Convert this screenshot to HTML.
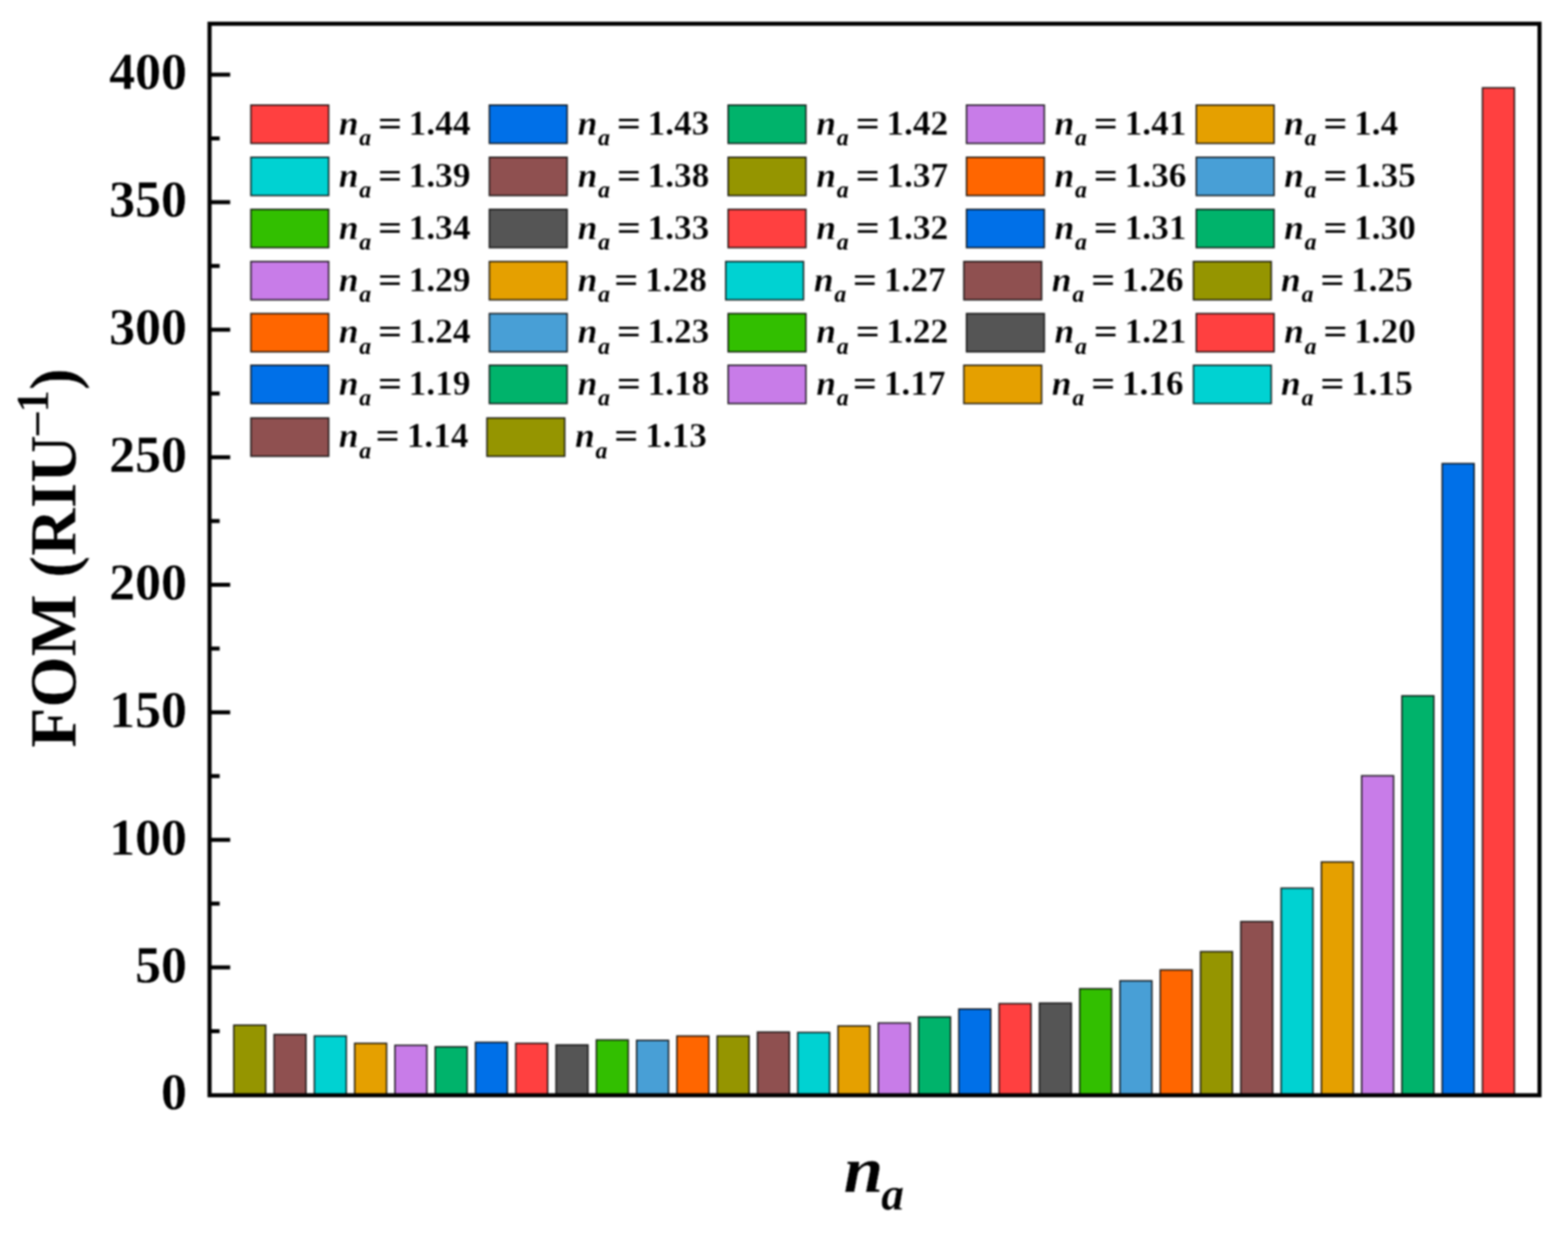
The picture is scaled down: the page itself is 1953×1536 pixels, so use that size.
<!DOCTYPE html>
<html lang="en"><head><meta charset="utf-8"><title>FOM (RIU-1) vs na bar chart</title>
<style>html,body{margin:0;padding:0;background:#fff}body{width:1953px;height:1536px;overflow:hidden}svg{display:block;filter:blur(0.8px)}text{font-family:"Liberation Serif", "DejaVu Serif", serif;font-weight:bold;fill:#000;stroke:#fff;stroke-width:0.3px;stroke-linejoin:round}.i{font-style:italic}.k{stroke:none}</style></head><body>
<svg width="1953" height="1536" viewBox="0 0 1953 1536">
<rect x="0" y="0" width="1953" height="1536" fill="#fff"/>
<g stroke="#000" stroke-opacity="0.85" stroke-width="1.8">
<rect x="291.20" y="1277.10" width="39.80" height="86.90" fill="#959500"/>
<rect x="341.37" y="1288.70" width="39.80" height="75.30" fill="#8F5050"/>
<rect x="391.54" y="1290.60" width="39.80" height="73.40" fill="#00D2D2"/>
<rect x="441.71" y="1299.70" width="39.80" height="64.30" fill="#E5A000"/>
<rect x="491.88" y="1302.20" width="39.80" height="61.80" fill="#C87CE8"/>
<rect x="542.05" y="1304.10" width="39.80" height="59.90" fill="#00B36B"/>
<rect x="592.22" y="1298.50" width="39.80" height="65.50" fill="#0070E8"/>
<rect x="642.39" y="1299.70" width="39.80" height="64.30" fill="#FF4040"/>
<rect x="692.56" y="1301.70" width="39.80" height="62.30" fill="#555555"/>
<rect x="742.73" y="1295.50" width="39.80" height="68.50" fill="#32BF00"/>
<rect x="792.90" y="1296.00" width="39.80" height="68.00" fill="#489FD6"/>
<rect x="843.07" y="1290.60" width="39.80" height="73.40" fill="#FF6600"/>
<rect x="893.24" y="1290.60" width="39.80" height="73.40" fill="#959500"/>
<rect x="943.41" y="1285.70" width="39.80" height="78.30" fill="#8F5050"/>
<rect x="993.58" y="1286.20" width="39.80" height="77.80" fill="#00D2D2"/>
<rect x="1043.75" y="1278.10" width="39.80" height="85.90" fill="#E5A000"/>
<rect x="1093.92" y="1274.40" width="39.80" height="89.60" fill="#C87CE8"/>
<rect x="1144.09" y="1266.80" width="39.80" height="97.20" fill="#00B36B"/>
<rect x="1194.26" y="1257.00" width="39.80" height="107.00" fill="#0070E8"/>
<rect x="1244.43" y="1250.30" width="39.80" height="113.70" fill="#FF4040"/>
<rect x="1294.60" y="1249.60" width="39.80" height="114.40" fill="#555555"/>
<rect x="1344.77" y="1231.70" width="39.80" height="132.30" fill="#32BF00"/>
<rect x="1394.94" y="1221.80" width="39.80" height="142.20" fill="#489FD6"/>
<rect x="1445.11" y="1208.30" width="39.80" height="155.70" fill="#FF6600"/>
<rect x="1495.28" y="1185.50" width="39.80" height="178.50" fill="#959500"/>
<rect x="1545.45" y="1148.10" width="39.80" height="215.90" fill="#8F5050"/>
<rect x="1595.62" y="1106.40" width="39.80" height="257.60" fill="#00D2D2"/>
<rect x="1645.79" y="1073.80" width="39.80" height="290.20" fill="#E5A000"/>
<rect x="1695.96" y="966.40" width="39.80" height="397.60" fill="#C87CE8"/>
<rect x="1746.13" y="866.80" width="39.80" height="497.20" fill="#00B36B"/>
<rect x="1796.30" y="577.50" width="39.80" height="786.50" fill="#0070E8"/>
<rect x="1846.47" y="109.40" width="39.80" height="1254.60" fill="#FF4040"/>
</g>
<g stroke="#000" stroke-width="5.0" fill="none">
<line x1="261.00" y1="1284.56" x2="273.60" y2="1284.56"/>
<line x1="261.00" y1="1205.12" x2="286.70" y2="1205.12"/>
<line x1="261.00" y1="1125.69" x2="273.60" y2="1125.69"/>
<line x1="261.00" y1="1046.25" x2="286.70" y2="1046.25"/>
<line x1="261.00" y1="966.81" x2="273.60" y2="966.81"/>
<line x1="261.00" y1="887.38" x2="286.70" y2="887.38"/>
<line x1="261.00" y1="807.94" x2="273.60" y2="807.94"/>
<line x1="261.00" y1="728.50" x2="286.70" y2="728.50"/>
<line x1="261.00" y1="649.06" x2="273.60" y2="649.06"/>
<line x1="261.00" y1="569.62" x2="286.70" y2="569.62"/>
<line x1="261.00" y1="490.19" x2="273.60" y2="490.19"/>
<line x1="261.00" y1="410.75" x2="286.70" y2="410.75"/>
<line x1="261.00" y1="331.31" x2="273.60" y2="331.31"/>
<line x1="261.00" y1="251.88" x2="286.70" y2="251.88"/>
<line x1="261.00" y1="172.44" x2="273.60" y2="172.44"/>
<line x1="261.00" y1="93.00" x2="286.70" y2="93.00"/>
</g>
<rect x="261.00" y="29.60" width="1656.50" height="1334.80" fill="none" stroke="#000" stroke-width="5.1"/>
<g font-size="64.6" text-anchor="end">
<text x="232.80" y="1382.40">0</text>
<text x="232.80" y="1223.53">50</text>
<text x="232.80" y="1064.65">100</text>
<text x="232.80" y="905.77">150</text>
<text x="232.80" y="746.90">200</text>
<text x="232.80" y="588.02">250</text>
<text x="232.80" y="429.15">300</text>
<text x="232.80" y="270.27">350</text>
<text x="232.80" y="111.40">400</text>
</g>
<text transform="translate(94,931.5) rotate(-90)" font-size="82">FOM (RIU<tspan font-size="56" dy="-34.3">–1</tspan><tspan dy="34.3">)</tspan></text>
<text class="i" y="1485" font-size="83"><tspan x="1050.7" textLength="49.39" lengthAdjust="spacingAndGlyphs">n</tspan><tspan font-size="60" x="1097.6" dy="22.0" textLength="28.50" lengthAdjust="spacingAndGlyphs">a</tspan></text>
<g stroke="#000" stroke-opacity="0.85" stroke-width="1.8">
<rect x="312.50" y="130.90" width="96.90" height="47.70" fill="#FF4040"/>
<rect x="609.50" y="130.90" width="96.90" height="47.70" fill="#0070E8"/>
<rect x="906.90" y="130.90" width="96.90" height="47.70" fill="#00B36B"/>
<rect x="1203.80" y="130.90" width="96.90" height="47.70" fill="#C87CE8"/>
<rect x="1490.00" y="130.90" width="96.90" height="47.70" fill="#E5A000"/>
<rect x="312.50" y="195.90" width="96.90" height="47.70" fill="#00D2D2"/>
<rect x="609.50" y="195.90" width="96.90" height="47.70" fill="#8F5050"/>
<rect x="906.90" y="195.90" width="96.90" height="47.70" fill="#959500"/>
<rect x="1203.80" y="195.90" width="96.90" height="47.70" fill="#FF6600"/>
<rect x="1490.00" y="195.90" width="96.90" height="47.70" fill="#489FD6"/>
<rect x="312.50" y="260.80" width="96.90" height="47.70" fill="#32BF00"/>
<rect x="609.50" y="260.80" width="96.90" height="47.70" fill="#555555"/>
<rect x="906.90" y="260.80" width="96.90" height="47.70" fill="#FF4040"/>
<rect x="1203.80" y="260.80" width="96.90" height="47.70" fill="#0070E8"/>
<rect x="1490.00" y="260.80" width="96.90" height="47.70" fill="#00B36B"/>
<rect x="312.50" y="325.80" width="96.90" height="47.70" fill="#C87CE8"/>
<rect x="609.50" y="325.80" width="96.90" height="47.70" fill="#E5A000"/>
<rect x="903.90" y="325.80" width="96.90" height="47.70" fill="#00D2D2"/>
<rect x="1200.50" y="325.80" width="96.90" height="47.70" fill="#8F5050"/>
<rect x="1486.50" y="325.80" width="96.90" height="47.70" fill="#959500"/>
<rect x="312.50" y="390.60" width="96.90" height="47.70" fill="#FF6600"/>
<rect x="609.50" y="390.60" width="96.90" height="47.70" fill="#489FD6"/>
<rect x="906.90" y="390.60" width="96.90" height="47.70" fill="#32BF00"/>
<rect x="1203.80" y="390.60" width="96.90" height="47.70" fill="#555555"/>
<rect x="1490.00" y="390.60" width="96.90" height="47.70" fill="#FF4040"/>
<rect x="312.50" y="455.00" width="96.90" height="47.70" fill="#0070E8"/>
<rect x="609.50" y="455.00" width="96.90" height="47.70" fill="#00B36B"/>
<rect x="906.90" y="455.00" width="96.90" height="47.70" fill="#C87CE8"/>
<rect x="1200.50" y="455.00" width="96.90" height="47.70" fill="#E5A000"/>
<rect x="1486.50" y="455.00" width="96.90" height="47.70" fill="#00D2D2"/>
<rect x="312.50" y="520.70" width="96.90" height="47.70" fill="#8F5050"/>
<rect x="606.50" y="520.70" width="96.90" height="47.70" fill="#959500"/>
</g>
<g font-size="44">
<text y="167.60"><tspan class="i" x="421.90">n</tspan><tspan class="i k" font-size="29.5" x="447.45" dy="13.2">a</tspan><tspan class="k" x="470.77" dy="-13.2" textLength="30.09" lengthAdjust="spacingAndGlyphs">=</tspan><tspan x="509.08">1.44</tspan></text>
<text y="167.60"><tspan class="i" x="719.40">n</tspan><tspan class="i k" font-size="29.5" x="744.95" dy="13.2">a</tspan><tspan class="k" x="768.27" dy="-13.2" textLength="30.09" lengthAdjust="spacingAndGlyphs">=</tspan><tspan x="806.58">1.43</tspan></text>
<text y="167.60"><tspan class="i" x="1016.80">n</tspan><tspan class="i k" font-size="29.5" x="1042.35" dy="13.2">a</tspan><tspan class="k" x="1065.67" dy="-13.2" textLength="30.09" lengthAdjust="spacingAndGlyphs">=</tspan><tspan x="1103.98">1.42</tspan></text>
<text y="167.60"><tspan class="i" x="1313.50">n</tspan><tspan class="i k" font-size="29.5" x="1339.05" dy="13.2">a</tspan><tspan class="k" x="1362.37" dy="-13.2" textLength="30.09" lengthAdjust="spacingAndGlyphs">=</tspan><tspan x="1400.68">1.41</tspan></text>
<text y="167.60"><tspan class="i" x="1599.40">n</tspan><tspan class="i k" font-size="29.5" x="1624.95" dy="13.2">a</tspan><tspan class="k" x="1648.27" dy="-13.2" textLength="30.09" lengthAdjust="spacingAndGlyphs">=</tspan><tspan x="1686.58">1.4</tspan></text>
<text y="232.60"><tspan class="i" x="421.90">n</tspan><tspan class="i k" font-size="29.5" x="447.45" dy="13.2">a</tspan><tspan class="k" x="470.77" dy="-13.2" textLength="30.09" lengthAdjust="spacingAndGlyphs">=</tspan><tspan x="509.08">1.39</tspan></text>
<text y="232.60"><tspan class="i" x="719.40">n</tspan><tspan class="i k" font-size="29.5" x="744.95" dy="13.2">a</tspan><tspan class="k" x="768.27" dy="-13.2" textLength="30.09" lengthAdjust="spacingAndGlyphs">=</tspan><tspan x="806.58">1.38</tspan></text>
<text y="232.60"><tspan class="i" x="1016.80">n</tspan><tspan class="i k" font-size="29.5" x="1042.35" dy="13.2">a</tspan><tspan class="k" x="1065.67" dy="-13.2" textLength="30.09" lengthAdjust="spacingAndGlyphs">=</tspan><tspan x="1103.98">1.37</tspan></text>
<text y="232.60"><tspan class="i" x="1313.50">n</tspan><tspan class="i k" font-size="29.5" x="1339.05" dy="13.2">a</tspan><tspan class="k" x="1362.37" dy="-13.2" textLength="30.09" lengthAdjust="spacingAndGlyphs">=</tspan><tspan x="1400.68">1.36</tspan></text>
<text y="232.60"><tspan class="i" x="1599.40">n</tspan><tspan class="i k" font-size="29.5" x="1624.95" dy="13.2">a</tspan><tspan class="k" x="1648.27" dy="-13.2" textLength="30.09" lengthAdjust="spacingAndGlyphs">=</tspan><tspan x="1686.58">1.35</tspan></text>
<text y="297.50"><tspan class="i" x="421.90">n</tspan><tspan class="i k" font-size="29.5" x="447.45" dy="13.2">a</tspan><tspan class="k" x="470.77" dy="-13.2" textLength="30.09" lengthAdjust="spacingAndGlyphs">=</tspan><tspan x="509.08">1.34</tspan></text>
<text y="297.50"><tspan class="i" x="719.40">n</tspan><tspan class="i k" font-size="29.5" x="744.95" dy="13.2">a</tspan><tspan class="k" x="768.27" dy="-13.2" textLength="30.09" lengthAdjust="spacingAndGlyphs">=</tspan><tspan x="806.58">1.33</tspan></text>
<text y="297.50"><tspan class="i" x="1016.80">n</tspan><tspan class="i k" font-size="29.5" x="1042.35" dy="13.2">a</tspan><tspan class="k" x="1065.67" dy="-13.2" textLength="30.09" lengthAdjust="spacingAndGlyphs">=</tspan><tspan x="1103.98">1.32</tspan></text>
<text y="297.50"><tspan class="i" x="1313.50">n</tspan><tspan class="i k" font-size="29.5" x="1339.05" dy="13.2">a</tspan><tspan class="k" x="1362.37" dy="-13.2" textLength="30.09" lengthAdjust="spacingAndGlyphs">=</tspan><tspan x="1400.68">1.31</tspan></text>
<text y="297.50"><tspan class="i" x="1599.40">n</tspan><tspan class="i k" font-size="29.5" x="1624.95" dy="13.2">a</tspan><tspan class="k" x="1648.27" dy="-13.2" textLength="30.09" lengthAdjust="spacingAndGlyphs">=</tspan><tspan x="1686.58">1.30</tspan></text>
<text y="362.50"><tspan class="i" x="421.90">n</tspan><tspan class="i k" font-size="29.5" x="447.45" dy="13.2">a</tspan><tspan class="k" x="470.77" dy="-13.2" textLength="30.09" lengthAdjust="spacingAndGlyphs">=</tspan><tspan x="509.08">1.29</tspan></text>
<text y="362.50"><tspan class="i" x="719.40">n</tspan><tspan class="i k" font-size="29.5" x="744.95" dy="13.2">a</tspan><tspan class="k" x="764.97" dy="-13.2" textLength="30.09" lengthAdjust="spacingAndGlyphs">=</tspan><tspan x="803.58">1.28</tspan></text>
<text y="362.50"><tspan class="i" x="1013.80">n</tspan><tspan class="i k" font-size="29.5" x="1039.35" dy="13.2">a</tspan><tspan class="k" x="1062.37" dy="-13.2" textLength="30.09" lengthAdjust="spacingAndGlyphs">=</tspan><tspan x="1100.98">1.27</tspan></text>
<text y="362.50"><tspan class="i" x="1310.10">n</tspan><tspan class="i k" font-size="29.5" x="1335.65" dy="13.2">a</tspan><tspan class="k" x="1358.97" dy="-13.2" textLength="30.09" lengthAdjust="spacingAndGlyphs">=</tspan><tspan x="1397.28">1.26</tspan></text>
<text y="362.50"><tspan class="i" x="1595.60">n</tspan><tspan class="i k" font-size="29.5" x="1621.15" dy="13.2">a</tspan><tspan class="k" x="1644.47" dy="-13.2" textLength="30.09" lengthAdjust="spacingAndGlyphs">=</tspan><tspan x="1682.78">1.25</tspan></text>
<text y="427.30"><tspan class="i" x="421.90">n</tspan><tspan class="i k" font-size="29.5" x="447.45" dy="13.2">a</tspan><tspan class="k" x="470.77" dy="-13.2" textLength="30.09" lengthAdjust="spacingAndGlyphs">=</tspan><tspan x="509.08">1.24</tspan></text>
<text y="427.30"><tspan class="i" x="719.40">n</tspan><tspan class="i k" font-size="29.5" x="744.95" dy="13.2">a</tspan><tspan class="k" x="768.27" dy="-13.2" textLength="30.09" lengthAdjust="spacingAndGlyphs">=</tspan><tspan x="806.58">1.23</tspan></text>
<text y="427.30"><tspan class="i" x="1016.80">n</tspan><tspan class="i k" font-size="29.5" x="1042.35" dy="13.2">a</tspan><tspan class="k" x="1065.67" dy="-13.2" textLength="30.09" lengthAdjust="spacingAndGlyphs">=</tspan><tspan x="1103.98">1.22</tspan></text>
<text y="427.30"><tspan class="i" x="1313.50">n</tspan><tspan class="i k" font-size="29.5" x="1339.05" dy="13.2">a</tspan><tspan class="k" x="1362.37" dy="-13.2" textLength="30.09" lengthAdjust="spacingAndGlyphs">=</tspan><tspan x="1400.68">1.21</tspan></text>
<text y="427.30"><tspan class="i" x="1599.40">n</tspan><tspan class="i k" font-size="29.5" x="1624.95" dy="13.2">a</tspan><tspan class="k" x="1648.27" dy="-13.2" textLength="30.09" lengthAdjust="spacingAndGlyphs">=</tspan><tspan x="1686.58">1.20</tspan></text>
<text y="491.70"><tspan class="i" x="421.90">n</tspan><tspan class="i k" font-size="29.5" x="447.45" dy="13.2">a</tspan><tspan class="k" x="470.77" dy="-13.2" textLength="30.09" lengthAdjust="spacingAndGlyphs">=</tspan><tspan x="509.08">1.19</tspan></text>
<text y="491.70"><tspan class="i" x="719.40">n</tspan><tspan class="i k" font-size="29.5" x="744.95" dy="13.2">a</tspan><tspan class="k" x="768.27" dy="-13.2" textLength="30.09" lengthAdjust="spacingAndGlyphs">=</tspan><tspan x="806.58">1.18</tspan></text>
<text y="491.70"><tspan class="i" x="1016.80">n</tspan><tspan class="i k" font-size="29.5" x="1042.35" dy="13.2">a</tspan><tspan class="k" x="1062.37" dy="-13.2" textLength="30.09" lengthAdjust="spacingAndGlyphs">=</tspan><tspan x="1100.68">1.17</tspan></text>
<text y="491.70"><tspan class="i" x="1310.10">n</tspan><tspan class="i k" font-size="29.5" x="1335.65" dy="13.2">a</tspan><tspan class="k" x="1358.97" dy="-13.2" textLength="30.09" lengthAdjust="spacingAndGlyphs">=</tspan><tspan x="1397.28">1.16</tspan></text>
<text y="491.70"><tspan class="i" x="1595.60">n</tspan><tspan class="i k" font-size="29.5" x="1621.15" dy="13.2">a</tspan><tspan class="k" x="1644.47" dy="-13.2" textLength="30.09" lengthAdjust="spacingAndGlyphs">=</tspan><tspan x="1682.78">1.15</tspan></text>
<text y="557.40"><tspan class="i" x="421.90">n</tspan><tspan class="i k" font-size="29.5" x="447.45" dy="13.2">a</tspan><tspan class="k" x="467.77" dy="-13.2" textLength="30.09" lengthAdjust="spacingAndGlyphs">=</tspan><tspan x="506.58">1.14</tspan></text>
<text y="557.40"><tspan class="i" x="716.20">n</tspan><tspan class="i k" font-size="29.5" x="741.75" dy="13.2">a</tspan><tspan class="k" x="765.07" dy="-13.2" textLength="30.09" lengthAdjust="spacingAndGlyphs">=</tspan><tspan x="803.38">1.13</tspan></text>
</g>
</svg></body></html>
